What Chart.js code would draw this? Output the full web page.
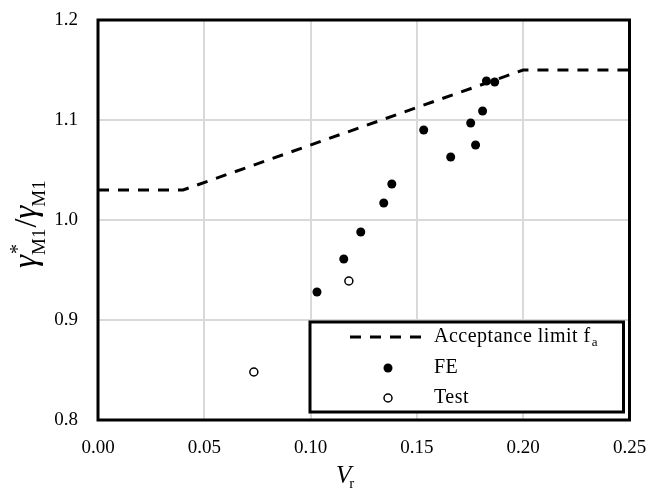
<!DOCTYPE html>
<html>
<head>
<meta charset="utf-8">
<script src="https://cdn.jsdelivr.net/npm/chart.js@4/dist/chart.umd.min.js"></script>
<style>
  html, body { margin: 0; padding: 0; background: #fff; }
  #wrap { width: 648px; height: 491px; }
</style>
</head>
<body>
<div id="wrap"><canvas id="ratioChart"></canvas></div>
<script>
// acceptance limit f_a (piecewise linear)
const limitVr = [0.00, 0.04, 0.20, 0.25];
const limitRatio = [1.03, 1.03, 1.15, 1.15];

// FE results
const feVr = [0.103, 0.1156, 0.1236, 0.1344, 0.1382, 0.1532, 0.1659, 0.1753, 0.1776, 0.1809, 0.1827, 0.1866];
const feRatio = [0.928, 0.961, 0.988, 1.017, 1.036, 1.090, 1.063, 1.097, 1.075, 1.109, 1.139, 1.138];

// test results
const testVr = [0.0733, 0.118];
const testRatio = [0.848, 0.939];

const xTicks = [0, 0.05, 0.10, 0.15, 0.20, 0.25];
const yTicks = [0.8, 0.9, 1.0, 1.1, 1.2];

const SERIF = '"Liberation Serif", "DejaVu Serif", serif';

function toPoints(xs, ys) {
  return xs.map((x, i) => ({ x: x, y: ys[i] }));
}

// frame, axis titles and the boxed legend
const decorations = {
  id: 'decorations',
  afterDraw(chart) {
    const ctx = chart.ctx;
    const a = chart.chartArea;
    ctx.save();

    // plot frame
    ctx.strokeStyle = '#000';
    ctx.lineWidth = 3;
    ctx.strokeRect(a.left, a.top, a.right - a.left, a.bottom - a.top);

    // x title: V_r
    ctx.fillStyle = '#000';
    ctx.textBaseline = 'alphabetic';
    ctx.textAlign = 'left';
    ctx.font = 'italic 25px ' + SERIF;
    const vx = 336, vy = 483;
    ctx.fillText('V', vx, vy);
    const vw = ctx.measureText('V').width;
    ctx.font = '15px ' + SERIF;
    ctx.fillText('r', vx + vw - 2, vy + 5);

    // y title: gamma*_M1 / gamma_M1
    ctx.translate(36, 268);
    ctx.rotate(-Math.PI / 2);
    let x = 0;
    ctx.font = 'italic 33px ' + SERIF;
    ctx.fillText('\u03B3', x, 0);
    x += ctx.measureText('\u03B3').width;
    ctx.font = '20px ' + SERIF;
    ctx.fillText('*', x + 1, -12);
    ctx.font = '19px ' + SERIF;
    ctx.fillText('M1', x, 9);
    x += ctx.measureText('M1').width + 1;
    ctx.font = '32px ' + SERIF;
    ctx.fillText('/', x, 0);
    x += ctx.measureText('/').width;
    ctx.font = 'italic 33px ' + SERIF;
    ctx.fillText('\u03B3', x, 0);
    x += ctx.measureText('\u03B3').width - 1;
    ctx.font = '19px ' + SERIF;
    ctx.fillText('M1', x, 9);
    ctx.setTransform(1, 0, 0, 1, 0, 0);

    // legend box
    const lx = a.left + 212, ly = a.top + 302;
    const lw = a.right - 6 - lx, lh = a.bottom - 8 - ly;
    ctx.fillStyle = '#fff';
    ctx.fillRect(lx, ly, lw, lh);
    ctx.lineWidth = 3;
    ctx.strokeStyle = '#000';
    ctx.strokeRect(lx, ly, lw, lh);

    const markX = lx + 78;
    const textX = lx + 124;
    const rows = [ly + 15, ly + 46, ly + 76];

    // dashed line sample
    ctx.beginPath();
    ctx.setLineDash([11, 9]);
    ctx.lineWidth = 3;
    ctx.moveTo(lx + 40, rows[0]);
    ctx.lineTo(lx + 112, rows[0]);
    ctx.stroke();
    ctx.setLineDash([]);

    // filled marker
    ctx.beginPath();
    ctx.arc(markX, rows[1], 4.5, 0, Math.PI * 2);
    ctx.fillStyle = '#000';
    ctx.fill();

    // open marker
    ctx.beginPath();
    ctx.arc(markX, rows[2], 4, 0, Math.PI * 2);
    ctx.fillStyle = '#fff';
    ctx.fill();
    ctx.lineWidth = 1.5;
    ctx.stroke();

    ctx.fillStyle = '#000';
    ctx.textBaseline = 'middle';
    ctx.letterSpacing = '0.5px';
    ctx.font = '20px ' + SERIF;
    ctx.fillText('Acceptance limit f', textX, rows[0]);
    const fw = ctx.measureText('Acceptance limit f').width;
    ctx.letterSpacing = '0px';
    ctx.font = '13px ' + SERIF;
    ctx.fillText('a', textX + fw + 1, rows[0] + 6);
    ctx.letterSpacing = '0.5px';
    ctx.font = '20px ' + SERIF;
    ctx.fillText('FE', textX, rows[1]);
    ctx.fillText('Test', textX, rows[2]);

    ctx.restore();
  }
};

new Chart(document.getElementById('ratioChart'), {
  type: 'scatter',
  data: {
    datasets: [
      {
        label: 'Acceptance limit fa',
        data: toPoints(limitVr, limitRatio),
        showLine: true,
        borderColor: '#000',
        borderWidth: 3,
        borderDash: [11, 9],
        borderCapStyle: 'butt',
        pointRadius: 0,
        fill: false,
        order: 3
      },
      {
        label: 'FE',
        data: toPoints(feVr, feRatio),
        pointRadius: 4.5,
        pointBackgroundColor: '#000',
        pointBorderColor: '#000',
        pointBorderWidth: 0,
        order: 2
      },
      {
        label: 'Test',
        data: toPoints(testVr, testRatio),
        pointRadius: 4,
        pointBackgroundColor: '#fff',
        pointBorderColor: '#000',
        pointBorderWidth: 1.5,
        order: 1
      }
    ]
  },
  options: {
    responsive: true,
    maintainAspectRatio: false,
    animation: false,
    layout: {
      padding: { top: 20, right: 18.5, left: 0, bottom: 0 }
    },
    plugins: {
      legend: { display: false },
      tooltip: { enabled: false }
    },
    scales: {
      x: {
        type: 'linear',
        min: 0,
        max: 0.25,
        afterBuildTicks: scale => { scale.ticks = xTicks.map(v => ({ value: v })); },
        afterFit: scale => {
          scale.height = 71;
          scale.paddingLeft = 0;
          scale.paddingRight = 0;
        },
        grid: { color: '#d9d9d9', lineWidth: 2, drawTicks: false },
        border: { display: false },
        ticks: {
          padding: 17,
          color: '#000',
          font: { family: SERIF, size: 19 },
          callback: v => v.toFixed(2)
        }
      },
      y: {
        type: 'linear',
        min: 0.8,
        max: 1.2,
        afterBuildTicks: scale => { scale.ticks = yTicks.map(v => ({ value: v })); },
        afterFit: scale => {
          scale.width = 98;
          scale.paddingTop = 0;
          scale.paddingBottom = 0;
        },
        grid: { color: '#d9d9d9', lineWidth: 2, drawTicks: false },
        border: { display: false },
        ticks: {
          padding: 20,
          color: '#000',
          font: { family: SERIF, size: 19 },
          callback: v => v.toFixed(1)
        }
      }
    }
  },
  plugins: [decorations]
});
</script>
</body>
</html>
